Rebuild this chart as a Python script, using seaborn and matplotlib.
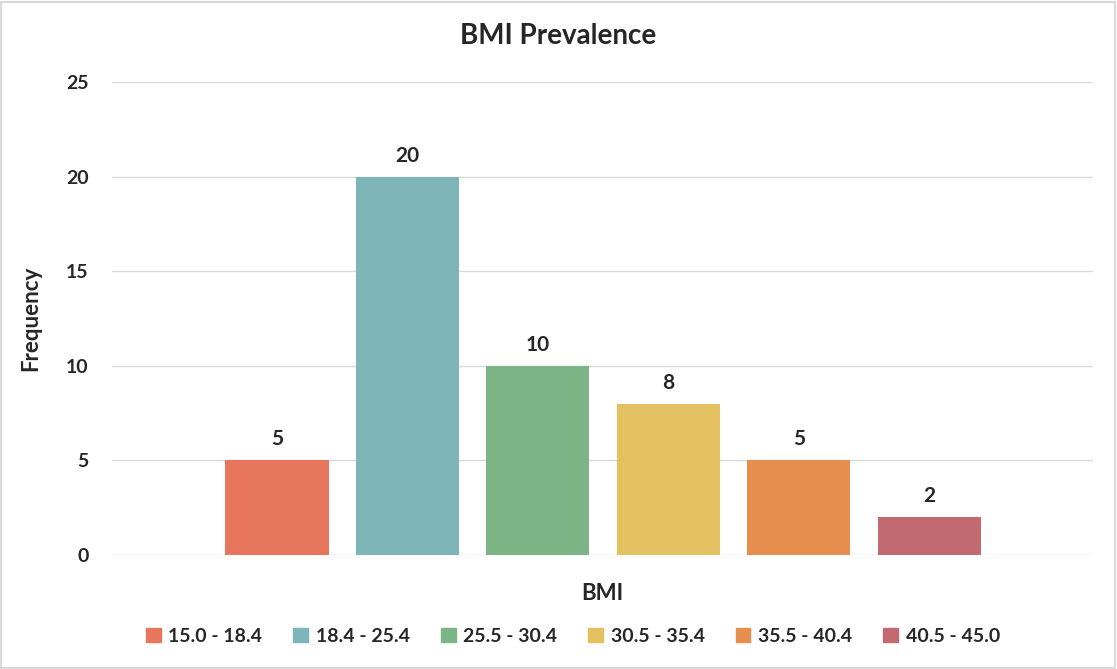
import matplotlib
matplotlib.use("Agg")
import matplotlib.pyplot as plt
import seaborn as sns
import pandas as pd
from matplotlib.patches import Rectangle

# 數據
bmi_ranges = ["15.0 - 18.4", "18.4 - 25.4", "25.5 - 30.4", "30.5 - 35.4", "35.5 - 40.4", "40.5 - 45.0"]
frequency = [5, 20, 10, 8, 5, 2]
bar_colors = ["#E8765C", "#7DB5B9", "#7DB486", "#E5C060", "#E68E4D", "#C26A70"]
y_ticks = [0, 5, 10, 15, 20, 25]

sns.set_style("white")
plt.rcParams['font.family'] = ['Lato', 'DejaVu Sans']

df = pd.DataFrame({"BMI": bmi_ranges, "Frequency": frequency})

fig = plt.figure(figsize=(11.17, 6.69), dpi=100)
ax = fig.add_axes([0.1003, 0.1704, 0.878, 0.707])

sns.barplot(data=df, x="BMI", y="Frequency", hue="BMI", palette=bar_colors,
            width=0.79, legend=False, ax=ax, saturation=1, linewidth=0)

ax.set_xlim(-1.265, 6.255)
ax.set_ylim(0, 25)
ax.set_yticks(y_ticks)
ax.set_yticklabels([str(t) for t in y_ticks], fontsize=14, fontweight='bold')
ax.tick_params(axis='y', length=0, pad=17)
ax.set_xticks([])
ax.grid(axis='y', color='#D9D9D9', linewidth=1)
ax.set_axisbelow(True)
for s in ax.spines.values():
    s.set_visible(False)

# 數值標籤
for container in ax.containers:
    ax.bar_label(container, padding=8, fontsize=15, fontweight='bold')

ax.set_xlabel("BMI", fontsize=16, fontweight='bold', labelpad=20)
ax.set_ylabel("Frequency", fontsize=16, fontweight='bold', labelpad=18)

fig.text(0.5, 0.946, "BMI Prevalence", ha='center', va='center', fontsize=20, fontweight='bold')

# 圖例
handles = [Rectangle((0, 0), 1, 1, color=c) for c in bar_colors]
fig.legend(handles, bmi_ranges, loc='center', bbox_to_anchor=(0.513, 0.049), ncol=6,
           frameon=False, prop={'size': 14, 'weight': 'bold'},
           handlelength=0.75, handleheight=0.75, handletextpad=0.4, columnspacing=1.6)

# 外框
fig.patches.append(Rectangle((0.001, 0.002), 0.997, 0.995, transform=fig.transFigure,
                             fill=False, edgecolor='#D9D9D9', linewidth=1.5))

plt.savefig("out.png", dpi=100)
